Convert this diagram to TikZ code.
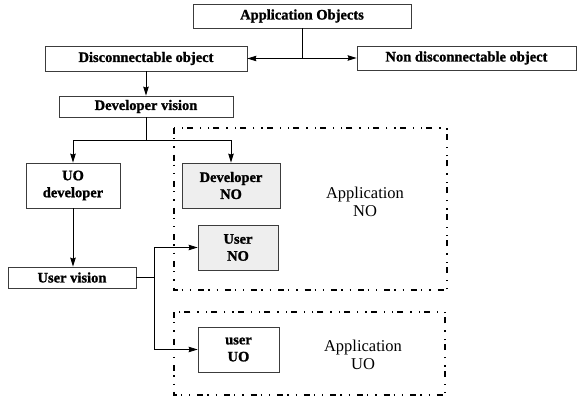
\documentclass[tikz,border=0pt]{standalone}
\usepackage{fontspec}
\setmainfont{Liberation Serif}[BoldFeatures={FakeBold=1.2}]
\usepackage{xcolor}
\definecolor{boxgray}{RGB}{238, 238, 238}
\definecolor{edgegray}{RGB}{60, 60, 60}
\usepackage{tikz}
\usetikzlibrary{arrows.meta, positioning, calc}

\begin{document}
\begin{tikzpicture}[x=1pt, y=-1pt, >={Stealth[length=9pt, width=5.5pt, inset=1pt]},
    objbox/.style={draw=edgegray, line width=0.8pt, inner sep=0pt, align=center,
        font=\bfseries\fontsize{14.5}{17}\selectfont},
    nobox/.style={objbox, fill=boxgray},
    region/.style={line width=1.3pt, dash pattern=on 6pt off 4pt on 1.3pt off 7pt on 1.3pt off 7pt},
    link/.style={line width=0.8pt, ->}]
    \useasboundingbox (0,0) rectangle (578,398);
    % application areas
    \draw[region] (174,128) rectangle (447,290);
    \draw[region] (174,312) rectangle (445,395);
    \node[align=center, font=\fontsize{16.5}{18}\selectfont] (appno) at (365,202) {Application\\NO};
    \node[align=center, font=\fontsize{16.5}{18}\selectfont] (appuo) at (363,355) {Application\\UO};
    % object boxes
    \node[objbox, minimum width=218pt, minimum height=24pt] (app) at (302,16) {Application Objects};
    \node[objbox, minimum width=202pt, minimum height=25pt] (disc) at (146,58.5) {Disconnectable object};
    \node[objbox, minimum width=219pt, minimum height=24pt] (nondisc) at (466.5,58) {Non disconnectable object};
    \node[objbox, minimum width=174pt, minimum height=21pt] (devvis) at (146,106.5) {Developer vision};
    \node[objbox, minimum width=94pt, minimum height=45pt] (uodev) at (73,185.5) {UO\\developer};
    \node[nobox, minimum width=98pt, minimum height=45pt] (devno) at (231,185.5) {Developer\\NO};
    \node[nobox, minimum width=80pt, minimum height=45pt] (userno) at (238,247.5) {User\\NO};
    \node[objbox, minimum width=128pt, minimum height=21pt] (uservis) at (72,277.5) {User vision};
    \node[objbox, minimum width=81pt, minimum height=45pt] (useruo) at (238.5,349.5) {user\\UO};
    \coordinate (fork) at (154,277.5);
    % connectors
    \draw[link] (app.south) |- (disc.east);
    \draw[link] (app.south) |- (nondisc.west);
    \draw[link] (disc.south) -- (devvis.north);
    \draw[link] (devvis.south) -- ++(0,23) -| (uodev.north);
    \draw[link] (devvis.south) -- ++(0,23) -| (devno.north);
    \draw[link] (uodev.south) -- (uodev.south |- uservis.north);
    \draw[line width=0.8pt] (uservis.east) -- (fork);
    \draw[link] (fork) |- (userno.west);
    \draw[link] (fork) |- (useruo.west);
\end{tikzpicture}
\end{document}
